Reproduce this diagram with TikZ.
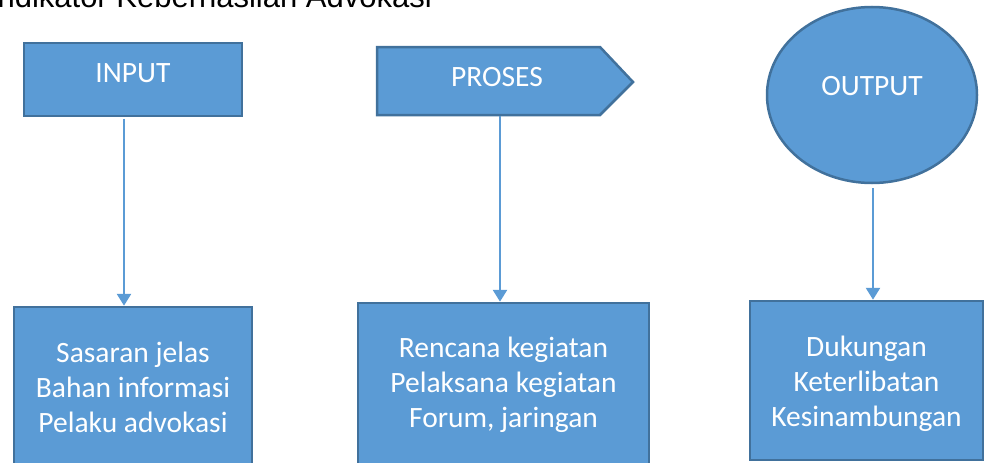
\documentclass[tikz,border=0pt]{standalone}
\usepackage{fontspec}
\setmainfont{Carlito}
\newfontfamily\titlefont{Liberation Sans}
\usetikzlibrary{shapes.geometric,arrows.meta}
\definecolor{fillblue}{HTML}{5B9BD5}
\definecolor{edgeblue}{HTML}{41719C}
\newcommand{\lift}[2]{\raisebox{#1}[\height][\depth]{#2}}
\begin{document}
\begin{tikzpicture}[x=1pt,y=-1pt,
  shp/.style={draw=edgeblue, fill=fillblue, line width=2.5pt, text=white,
    font=\fontsize{29.5}{35}\selectfont, inner sep=0pt},
  lbl/.style={text=white, font=\fontsize{29.5}{35}\selectfont, inner sep=0pt},
  conn/.style={draw=fillblue, line width=2.6pt, -{Triangle[width=14pt,length=12pt]}}]
\useasboundingbox (0,0) rectangle (986,463);
\node[font=\titlefont\fontsize{31}{36}\selectfont, anchor=base east, inner sep=0pt] (title) at (432,7) {Indikator Keberhasilan Advokasi};
% top row
\node[shp, rectangle, minimum width=218pt, minimum height=73pt] (input) at (133,79.5) {\lift{6pt}{INPUT}};
\draw[shp] (377,47) -- (600,47) -- (633,82) -- (600,115) -- (377,115) -- cycle;
\node[lbl] (proses) at (497,77) {PROSES};
\coordinate (proses-s) at (500,116);
\node[shp, ellipse, minimum width=210pt, minimum height=176pt] (output) at (872,95) {\lift{9pt}{OUTPUT}};
% bottom row
\node[shp, rectangle, minimum width=238pt, minimum height=173pt] (b1) at (133,393.5)
  {\lift{3pt}{\begin{tabular}{@{}c@{}}Sasaran jelas\\Bahan informasi\\Pelaku advokasi\end{tabular}}};
\node[shp, rectangle, minimum width=291pt, minimum height=177pt] (b2) at (503.5,391.5)
  {\lift{6pt}{\begin{tabular}{@{}c@{}}Rencana kegiatan\\Pelaksana kegiatan\\Forum, jaringan\end{tabular}}};
\node[shp, rectangle, minimum width=233pt, minimum height=159pt] (b3) at (866.5,380.5)
  {\lift{-4pt}{\begin{tabular}{@{}c@{}}Dukungan\\Keterlibatan\\Kesinambungan\end{tabular}}};
% connectors
\draw[conn] ([xshift=-9pt,yshift=-1.5pt]input.south) -- ([xshift=-9pt]b1.north);
\draw[conn] (proses-s) -- (proses-s |- b2.north);
\draw[conn] ([xshift=1pt,yshift=-4pt]output.south) -- ([xshift=1pt]output.south |- b3.north);
\end{tikzpicture}
\end{document}
